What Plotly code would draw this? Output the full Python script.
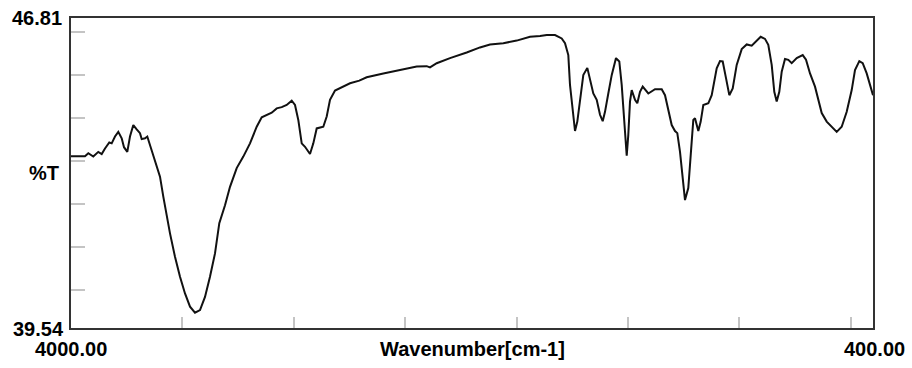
import plotly.graph_objects as go

# Wavenumber (cm-1) and %T
wavenumber = [
    4000.0, 3937.2, 3922.3, 3899.9, 3877.5, 3862.2, 3847.4, 3828.1, 3817.3, 3802.5,
    3787.7, 3772.4, 3762.1, 3747.3, 3735.2, 3720.3, 3705.1, 3690.3, 3682.6, 3667.8,
    3657.5, 3637.7, 3618.5, 3600.5, 3585.7, 3570.4, 3555.6, 3533.2, 3510.7, 3488.3,
    3465.8, 3443.4, 3420.9, 3398.5, 3376.1, 3353.6, 3334.3, 3308.7, 3286.3, 3256.2,
    3226.6, 3196.5, 3166.4, 3143.9, 3121.5, 3099.1, 3076.6, 3054.2, 3031.8, 3009.3,
    2994.5, 2979.7, 2964.4, 2949.6, 2927.2, 2912.3, 2897.1, 2867.5, 2852.2, 2837.4,
    2814.9, 2777.7, 2747.6, 2705.9, 2672.7, 2598.1, 2523.2, 2448.2, 2403.3, 2388.5,
    2358.4, 2298.7, 2223.8, 2164.1, 2119.2, 2059.5, 1999.3, 1939.6, 1894.6, 1864.6,
    1827.4, 1797.3, 1782.5, 1767.7, 1760.1, 1748.0, 1737.6, 1727.3, 1715.2, 1700.4,
    1682.4, 1670.3, 1655.5, 1640.2, 1625.4, 1613.3, 1603.0, 1588.2, 1572.9, 1553.6,
    1538.8, 1528.0, 1517.7, 1510.0, 1505.5, 1498.4, 1490.8, 1483.1, 1468.3, 1458.0,
    1445.9, 1433.7, 1408.6, 1378.5, 1348.4, 1333.6, 1318.8, 1303.6, 1288.8, 1278.4,
    1266.3, 1254.2, 1243.9, 1229.1, 1221.4, 1213.8, 1206.6, 1199.0, 1184.1, 1173.4,
    1161.7, 1139.2, 1124.0, 1101.6, 1086.8, 1074.6, 1059.8, 1045.0, 1029.7, 1011.8,
    989.3, 966.9, 944.5, 922.0, 904.1, 884.8, 870.0, 854.7, 843.1, 832.3,
    820.6, 809.8, 795.0, 780.1, 764.9, 742.4, 715.5, 700.7, 682.7, 660.3,
    645.4, 630.2, 607.8, 585.3, 562.9, 540.5, 518.0, 495.6, 480.8, 461.4,
    446.2, 428.3, 405.8, 400.0,
]
transmittance = [
    43.57, 43.57, 43.64, 43.56, 43.67, 43.62, 43.75, 43.89, 43.87, 44.03,
    44.14, 43.99, 43.78, 43.67, 44.03, 44.30, 44.20, 44.11, 43.97, 43.99,
    44.03, 43.71, 43.36, 43.09, 42.62, 42.15, 41.76, 41.21, 40.74, 40.35,
    40.04, 39.90, 39.96, 40.27, 40.74, 41.29, 42.00, 42.42, 42.85, 43.29,
    43.56, 43.87, 44.26, 44.48, 44.54, 44.59, 44.69, 44.72, 44.77, 44.87,
    44.77, 44.42, 43.87, 43.79, 43.62, 43.87, 44.22, 44.26, 44.50, 44.89,
    45.11, 45.20, 45.28, 45.34, 45.42, 45.51, 45.59, 45.67, 45.68, 45.65,
    45.75, 45.87, 46.00, 46.12, 46.19, 46.22, 46.28, 46.37, 46.39, 46.41,
    46.41, 46.33, 46.22, 45.94, 45.24, 44.61, 44.16, 44.38, 44.85, 45.47,
    45.64, 45.40, 45.04, 44.89, 44.54, 44.39, 44.61, 45.04, 45.47, 45.87,
    45.79, 45.24, 44.38, 43.91, 43.58, 44.07, 44.85, 45.12, 44.89, 44.81,
    45.08, 45.20, 45.04, 45.14, 45.14, 45.00, 44.69, 44.30, 44.16, 44.11,
    43.67, 43.05, 42.54, 42.82, 43.52, 43.91, 44.42, 44.46, 44.16, 44.38,
    44.77, 44.81, 45.00, 45.63, 45.80, 45.79, 45.40, 45.00, 45.16, 45.71,
    46.08, 46.19, 46.16, 46.27, 46.37, 46.32, 46.18, 45.71, 45.08, 44.85,
    45.08, 45.55, 45.85, 45.83, 45.75, 45.87, 45.94, 45.83, 45.51, 45.20,
    44.89, 44.58, 44.38, 44.26, 44.14, 44.26, 44.61, 45.12, 45.59, 45.80,
    45.75, 45.51, 45.08, 45.00,
]

x_range = [4000.0, 400.0]
y_range = [39.54, 46.81]
x_tick_vals = [3500, 3000, 2500, 2000, 1500, 1000, 500]
y_tick_vals = [46.48, 45.47, 44.46, 43.46, 42.45, 41.44, 40.43]

y_top_label = "46.81"
y_bottom_label = "39.54"
x_left_label = "4000.00"
x_right_label = "400.00"
x_title = "Wavenumber[cm-1]"
y_title = "%T"

fig = go.Figure()
fig.add_trace(go.Scatter(
    x=wavenumber, y=transmittance, mode="lines",
    line=dict(color="#111111", width=2), hoverinfo="skip", showlegend=False,
))

axis_common = dict(
    showgrid=False, zeroline=False, showline=True, linecolor="#333333",
    linewidth=2, mirror=True, ticks="inside", tickcolor="#c4c4c4",
    tickwidth=2, showticklabels=False,
)
fig.update_xaxes(range=x_range, tickmode="array", tickvals=x_tick_vals,
                 ticklen=11, **axis_common)
fig.update_yaxes(range=y_range, tickmode="array", tickvals=y_tick_vals,
                 ticklen=14, **axis_common)

lab_font = dict(family="Liberation Sans, Arial, sans-serif", size=20,
                color="black", weight="bold")
annots = [
    dict(text=y_top_label, x=0, y=1, xanchor="right", yanchor="middle", xshift=-7),
    dict(text=y_bottom_label, x=0, y=0, xanchor="right", yanchor="middle", xshift=-5, yshift=-1),
    dict(text=x_left_label, x=0, y=0, xanchor="center", yanchor="middle", yshift=-21),
    dict(text=x_right_label, x=1, y=0, xanchor="center", yanchor="middle", xshift=1, yshift=-21),
    dict(text=x_title, x=0.5, y=0, xanchor="center", yanchor="middle", yshift=-21),
    dict(text=y_title, x=0, y=0.5, xanchor="right", yanchor="middle", xshift=-10, yshift=0),
]
for a in annots:
    fig.add_annotation(xref="paper", yref="paper", showarrow=False, font=lab_font, **a)

fig.update_layout(
    width=912, height=368, autosize=False,
    margin=dict(l=71, r=39, t=18, b=40),
    paper_bgcolor="white", plot_bgcolor="white",
)

fig.write_html("out.html")
